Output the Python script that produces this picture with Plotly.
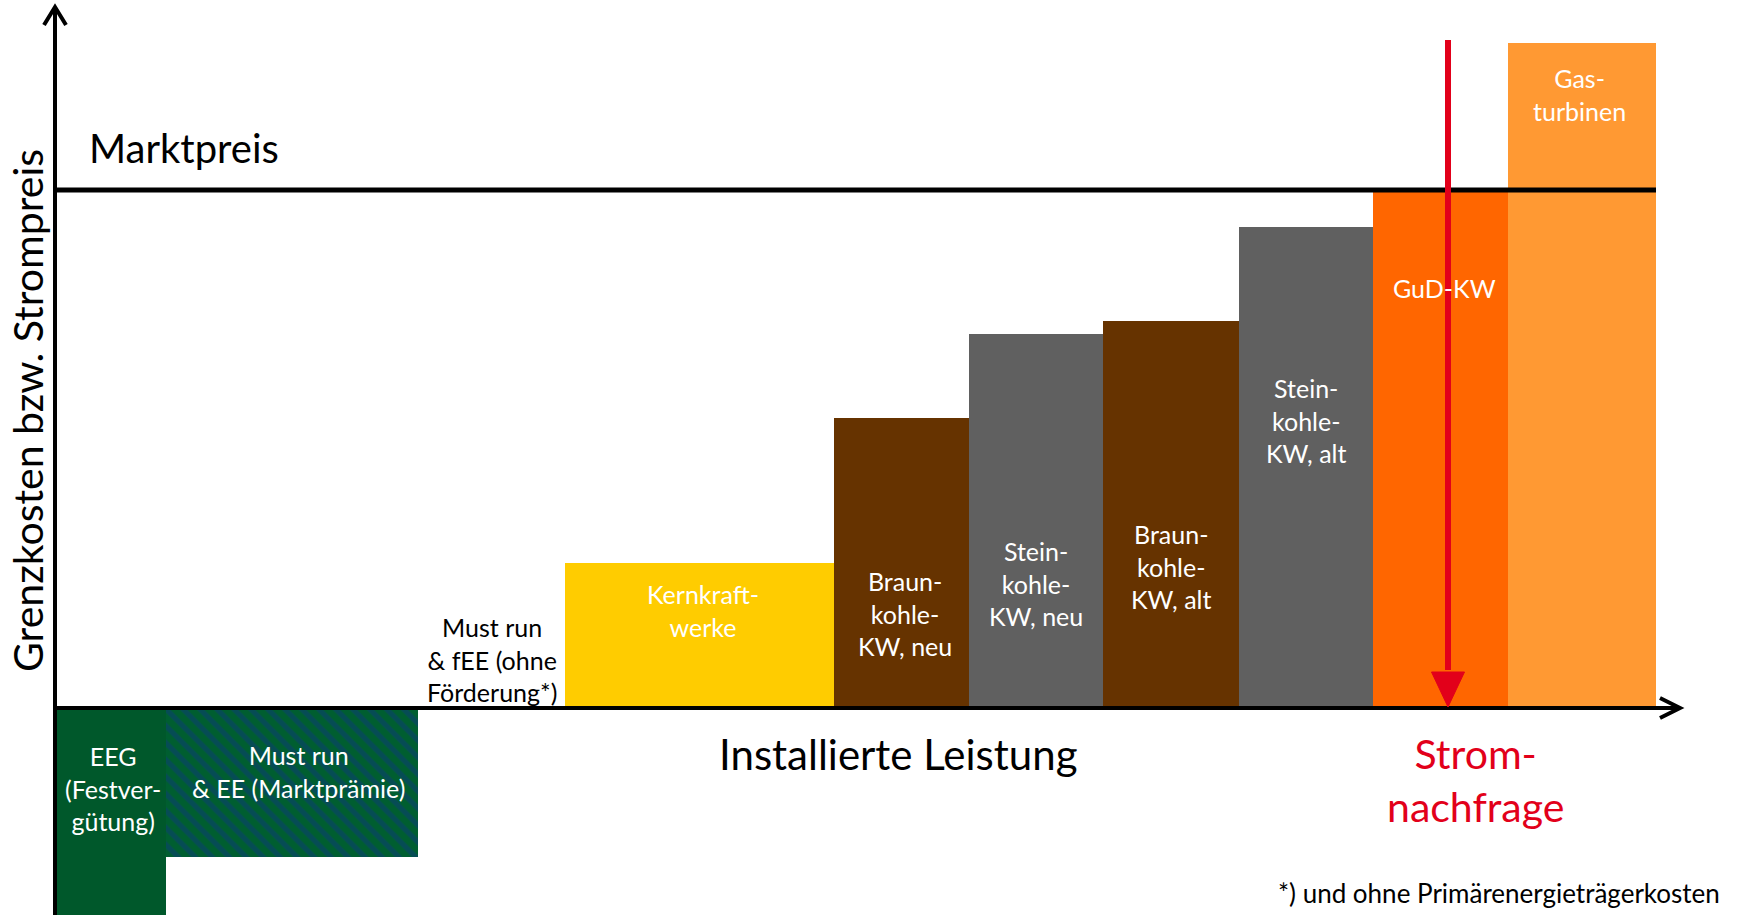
import numpy as np
import plotly.graph_objects as go

""" Data: merit order (widths = installed capacity, heights = marginal cost, arbitrary units) """
names = [
    "EEG<br>(Festver-<br>gütung)",
    "Must run<br>& EE (Marktprämie)",
    "Must run<br>& fEE (ohne<br>Förderung*)",
    "Kernkraft-<br>werke",
    "Braun-<br>kohle-<br>KW, neu",
    "Stein-<br>kohle-<br>KW, neu",
    "Braun-<br>kohle-<br>KW, alt",
    "Stein-<br>kohle-<br>KW, alt",
    "GuD-KW",
    "Gas-<br>turbinen",
]
capacity = [11.1, 25.2, 14.7, 26.9, 13.5, 13.4, 13.6, 13.4, 13.5, 14.8]
cost = [-25.0, -14.9, 0.0, 14.5, 29.0, 37.4, 38.7, 48.1, 51.7, 66.5]
colors = ["#00582b", "#00582b", "#ffffff", "#ffcc00", "#663300", "#606060",
          "#663300", "#606060", "#ff6600", "#ff9933"]
# label position (centre of text block) for each bar
label_y = [-8.0, -6.35, 4.9, 9.8, 9.5, 12.5, 14.2, 28.8, 42.0, 61.4]
label_dx = [0.2, 0.6, 0.0, 0.3, 0.3, 0.0, 0.0, 0.0, 0.4, -0.3]

market_price = 51.8
demand = 139.3

edges = np.concatenate([[0], np.cumsum(capacity)])
centers = (edges[:-1] + edges[1:]) / 2

FONT = "Lato"

fig = go.Figure()

# plain bars
plain = [i for i in range(len(names)) if i != 1 and cost[i] != 0]
fig.add_trace(go.Bar(
    x=centers[plain], y=[cost[i] for i in plain], width=[capacity[i] for i in plain],
    base=0, marker=dict(color=[colors[i] for i in plain], line=dict(width=0)),
    hoverinfo="skip",
))
# hatched bar (Must run & EE)
fig.add_trace(go.Bar(
    x=[centers[1]], y=[cost[1]], width=[capacity[1]], base=0,
    marker=dict(color=colors[1], line=dict(width=0),
                pattern=dict(shape="\\", fgcolor="#0b3a7a", bgcolor="#005e30",
                             size=12, solidity=0.45)),
    hoverinfo="skip",
))

# market price line
fig.add_trace(go.Scatter(
    x=[0, edges[-1]], y=[market_price, market_price], mode="lines",
    line=dict(color="black", width=5), hoverinfo="skip",
))

# axes with open arrow heads
y_top, x_end = 70.1, 162.5
fig.add_shape(type="line", x0=0, x1=0, y0=-21, y1=y_top, line=dict(color="black", width=4))
fig.add_shape(type="path", path=f"M -1.1,{y_top-1.8} L 0,{y_top} L 1.1,{y_top-1.8}",
              line=dict(color="black", width=4))
fig.add_shape(type="line", x0=0, x1=x_end, y0=0, y1=0, line=dict(color="black", width=4))
fig.add_shape(type="path", path=f"M {x_end-2.0},1.0 L {x_end},0 L {x_end-2.0},-1.0",
              line=dict(color="black", width=4))

# demand arrow
fig.add_shape(type="line", x0=demand, x1=demand, y0=3.8, y1=66.8,
              line=dict(color="#e2001a", width=6))
fig.add_shape(type="path", path=f"M {demand-1.65},3.6 L {demand},0.1 L {demand+1.65},3.6 Z",
              fillcolor="#e2001a", line=dict(color="#e2001a", width=1))

annotations = []
for i, n in enumerate(names):
    annotations.append(dict(
        x=centers[i] + label_dx[i], y=label_y[i], text=n, showarrow=False,
        font=dict(family=FONT, size=25, color="black" if i == 2 else "white"),
        xanchor="center", yanchor="middle",
    ))

annotations += [
    dict(x=3.2, y=56.0, text="Marktpreis", xanchor="left", yanchor="middle",
         showarrow=False, font=dict(family=FONT, size=40, color="black")),
    dict(x=-2.8, y=29.7, text="Grenzkosten bzw. Strompreis", textangle=-90,
         xanchor="center", yanchor="middle", showarrow=False,
         font=dict(family=FONT, size=41, color="black")),
    dict(x=84.3, y=-4.6, text="Installierte Leistung", xanchor="center", yanchor="middle",
         showarrow=False, font=dict(family=FONT, size=42, color="black")),
    dict(x=142.0, y=-7.2, text="Strom-<br>nachfrage", xanchor="center", yanchor="middle",
         showarrow=False, font=dict(family=FONT, size=41, color="#e2001a")),
    dict(x=166.7, y=-18.5, text="*) und ohne Primärenergieträgerkosten", xanchor="right",
         yanchor="middle", showarrow=False, font=dict(family=FONT, size=26, color="black")),
]

fig.update_layout(
    width=1742, height=915,
    margin=dict(l=0, r=0, t=0, b=0),
    paper_bgcolor="white", plot_bgcolor="white",
    barmode="overlay", bargap=0, showlegend=False,
    annotations=annotations,
    xaxis=dict(range=[-5.5, 168.7], visible=False, fixedrange=True),
    yaxis=dict(range=[-20.7, 70.8], visible=False, fixedrange=True),
)

# remove the default page margin so the figure sits at the window's top-left corner
fig.write_html("out.html", config={"displayModeBar": False},
               post_script="document.body.style.margin='0';")
